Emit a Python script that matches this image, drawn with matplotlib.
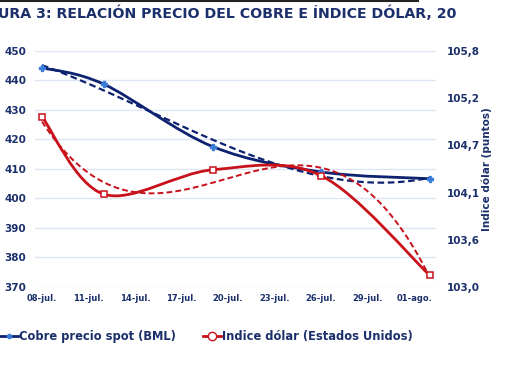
import numpy as np
import pandas as pd
import matplotlib.pyplot as plt
from matplotlib.path import Path
from matplotlib.patches import PathPatch
from matplotlib.lines import Line2D

# ---------------------- datos ----------------------
fechas = ["2011-07-08", "2011-07-12", "2011-07-19", "2011-07-26", "2011-08-02"]
cobre = [444.3, 438.7, 417.6, 409.0, 406.7]          # eje izquierdo
dolar = [105.02, 104.10, 104.39, 104.32, 103.14]     # eje derecho
tick_fechas = ["2011-07-08", "2011-07-11", "2011-07-14", "2011-07-17", "2011-07-20",
               "2011-07-23", "2011-07-26", "2011-07-29", "2011-08-01"]
tick_labels = ["08-jul.", "11-jul.", "14-jul.", "17-jul.", "20-jul.",
               "23-jul.", "26-jul.", "29-jul.", "01-ago."]
izq_ticks = [370, 380, 390, 400, 410, 420, 430, 440, 450]
der_ticks = [103.0, 103.56, 104.12, 104.68, 105.24, 105.8]

NAVY = "#1B2F6B"
AZUL = "#0D2270"
AZUL_MK = "#3B7DD8"
ROJO = "#C8111A"
GRID = "#DCE6F4"

t0 = pd.Timestamp(fechas[0])
x = np.array([(pd.Timestamp(f) - t0).days for f in fechas], dtype=float)
xt = np.array([(pd.Timestamp(f) - t0).days for f in tick_fechas], dtype=float)


def curva_suave(ax, xs, ys, **kw):
    # curva tipo Excel: bezier cubica con puntos de control catmull-rom
    xs, ys = np.asarray(xs, float), np.asarray(ys, float)
    pts = np.column_stack([xs, ys])
    verts, codes = [pts[0]], [Path.MOVETO]
    n = len(pts)
    for i in range(n - 1):
        p0 = pts[i - 1] if i > 0 else pts[i]
        p1, p2 = pts[i], pts[i + 1]
        p3 = pts[i + 2] if i + 2 < n else pts[i + 1]
        c1 = p1 + (p2 - p0) / 6.0
        c2 = p2 - (p3 - p1) / 6.0
        verts += [c1, c2, p2]
        codes += [Path.CURVE4] * 3
    ax.add_patch(PathPatch(Path(verts, codes), fill=False, **kw))


fig = plt.figure(figsize=(5.1, 3.82), dpi=100)
ax = fig.add_axes([0.0686, 0.2487, 0.786, 0.618])
ax2 = ax.twinx()

ax.set_xlim(-0.45, 25.4)
ax.set_ylim(370, 450)
ax2.set_ylim(103.0, 105.8)

for v in izq_ticks:
    ax.axhline(v, color=GRID, lw=1.0, zorder=0)

# cobre
curva_suave(ax, x, cobre, color=AZUL, lw=2.0, zorder=3)
c = np.polyfit(x, cobre, 3)
xx = np.linspace(x[0], x[-1], 200)
ax.plot(xx, np.polyval(c, xx), color=AZUL, lw=1.6, ls=(0, (3, 1.6)), zorder=3)
ax.plot(x, cobre, ls="none", marker="P", ms=5, color=AZUL_MK, mec=AZUL_MK, zorder=4)

# dolar
curva_suave(ax2, x, dolar, color=ROJO, lw=2.0, zorder=3)
d = np.polyfit(x, dolar, 3)
ax2.plot(xx, np.polyval(d, xx), color=ROJO, lw=1.4, ls=(0, (3, 1.6)), zorder=3)
ax2.plot(x, dolar, ls="none", marker="s", ms=5, mfc="white", mec=ROJO, mew=1.1,
         zorder=4)

for a in (ax, ax2):
    for s in a.spines.values():
        s.set_visible(False)
    a.tick_params(length=0, colors=NAVY)

ax.set_yticks(izq_ticks)
ax.set_yticklabels([str(v) for v in izq_ticks], fontsize=7.5, fontweight="bold",
                   color=NAVY, ha="left")
ax.tick_params(axis="y", pad=22)
ax2.set_yticks(der_ticks)
ax2.set_yticklabels([f"{v:.1f}".replace(".", ",") for v in der_ticks], fontsize=7.5,
                    fontweight="bold", color=NAVY)
ax2.tick_params(axis="y", pad=8)
ax.set_xticks(xt)
ax.set_xticklabels(tick_labels, fontsize=6, fontweight="bold", color=NAVY)
ax.tick_params(axis="x", pad=5)

fig.text(0.955, 0.557, "Indice dólar (puntos)", rotation=90, ha="center", va="center",
         fontsize=7.5, fontweight="bold", color=NAVY)

fig.text(-0.004, 0.965, "URA 3: RELACIÓN PRECIO DEL COBRE E ÍNDICE DÓLAR, 20",
         ha="left", va="center", fontsize=10.2, fontweight="bold", color=NAVY)
fig.add_artist(Line2D([0, 0.82], [0.998, 0.998], color="#222222", lw=1.5))

handles = [
    Line2D([], [], color=AZUL, lw=2, marker="o", ms=3, mfc=AZUL_MK, mec=AZUL_MK),
    Line2D([], [], color=ROJO, lw=2, marker="o", ms=6, mfc="white", mec=ROJO),
]
fig.legend(handles, ["Cobre precio spot (BML)", "Indice dólar (Estados Unidos)"],
           loc="center", bbox_to_anchor=(0.405, 0.118), ncol=2, frameon=False,
           handlelength=1.6, handletextpad=0.1, columnspacing=2.3,
           prop={"size": 8.3, "weight": "bold"}, labelcolor=NAVY)

fig.savefig("out.png", dpi=100)
